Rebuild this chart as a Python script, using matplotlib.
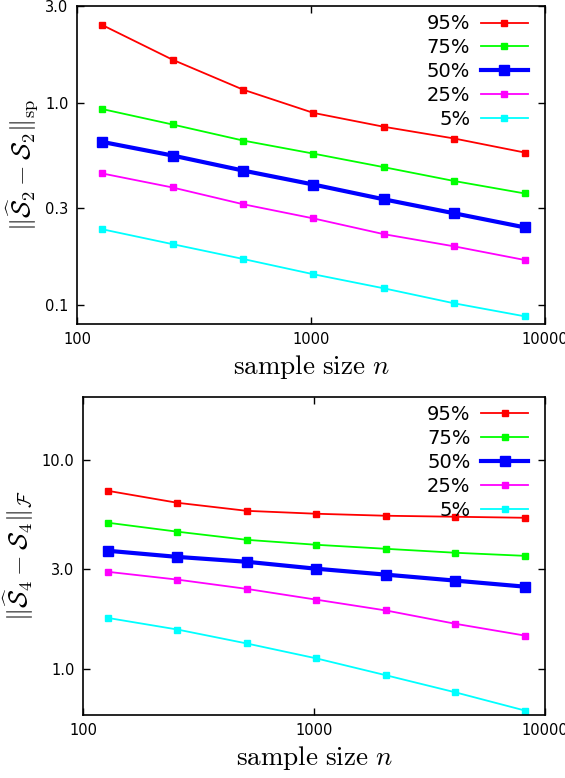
import matplotlib
matplotlib.use("Agg")
import matplotlib.pyplot as plt
from matplotlib.ticker import FixedLocator, FixedFormatter, NullLocator

plt.rcParams['mathtext.fontset'] = 'cm'

n = [128, 256, 512, 1024, 2048, 4096, 8192]
labels = ["95%", "75%", "50%", "25%", "5%"]
colors = ["#ff0000", "#00ff00", "#0000ff", "#ff00ff", "#00ffff"]

top_vals = [
    [2.42, 1.63, 1.16, 0.89, 0.76, 0.665, 0.567],
    [0.93, 0.78, 0.65, 0.56, 0.48, 0.41, 0.356],
    [0.64, 0.548, 0.462, 0.394, 0.333, 0.284, 0.242],
    [0.447, 0.381, 0.315, 0.268, 0.224, 0.195, 0.167],
    [0.237, 0.20, 0.169, 0.142, 0.121, 0.102, 0.088],
]
bot_vals = [
    [7.11, 6.23, 5.70, 5.52, 5.40, 5.34, 5.28],
    [5.0, 4.53, 4.14, 3.92, 3.75, 3.59, 3.47],
    [3.67, 3.43, 3.25, 3.01, 2.82, 2.64, 2.47],
    [2.91, 2.67, 2.41, 2.14, 1.90, 1.64, 1.44],
    [1.75, 1.54, 1.32, 1.12, 0.93, 0.77, 0.63],
]

x_ticks = [100, 1000, 10000]
x_ticklabels = ["100", "1000", "10000"]
top_yticks = [0.1, 0.3, 1.0, 3.0]
top_yticklabels = ["0.1", "0.3", "1.0", "3.0"]
bot_yticks = [1.0, 3.0, 10.0]
bot_yticklabels = ["1.0", "3.0", "10.0"]

fig = plt.figure(figsize=(5.65, 7.78), dpi=100)
ax1 = fig.add_axes([0.1363, 0.5835, 0.8283, 0.4087])
ax2 = fig.add_axes([0.1469, 0.081, 0.8177, 0.4087])

def draw(ax, vals, ylim, yticks, yticklabels, ylabel):
    for v, lab, c in zip(vals, labels, colors):
        if lab == "50%":
            ax.plot(n, v, color=c, lw=3.0, marker='s', ms=6.5, label=lab)
        else:
            ax.plot(n, v, color=c, lw=1.3, marker='s', ms=4.5, label=lab)
    ax.set_xscale('log')
    ax.set_yscale('log')
    ax.set_xlim(100, 10000)
    ax.set_ylim(*ylim)
    ax.xaxis.set_major_locator(FixedLocator(x_ticks))
    ax.xaxis.set_major_formatter(FixedFormatter(x_ticklabels))
    ax.xaxis.set_minor_locator(NullLocator())
    ax.yaxis.set_major_locator(FixedLocator(yticks))
    ax.yaxis.set_major_formatter(FixedFormatter(yticklabels))
    ax.yaxis.set_minor_locator(NullLocator())
    ax.tick_params(direction='in', top=True, right=True, length=5, width=1,
                   labelsize=10.5, pad=6)
    for s in ax.spines.values():
        s.set_linewidth(1.2)
    ax.set_xlabel(r"$\mathrm{sample\ size}\ n$", fontsize=19.5, labelpad=4)
    ax.set_ylabel(ylabel, fontsize=19, labelpad=4)
    ax.legend(loc='upper right', bbox_to_anchor=(0.963, 0.974),
              frameon=False, markerfirst=False,
              fontsize=14, handlelength=2.4, handletextpad=0.55,
              labelspacing=0.25, borderaxespad=0.0, borderpad=0.0)

draw(ax1, top_vals, (0.0806, 3.0), top_yticks, top_yticklabels,
     r"$\|\widehat{\mathcal{S}}_2 - \mathcal{S}_2\|_{\mathrm{sp}}$")
draw(ax2, bot_vals, (0.6, 20.0), bot_yticks, bot_yticklabels,
     r"$\|\widehat{\mathcal{S}}_4 - \mathcal{S}_4\|_{\mathcal{F}}$")

fig.savefig("out.png", dpi=100)
